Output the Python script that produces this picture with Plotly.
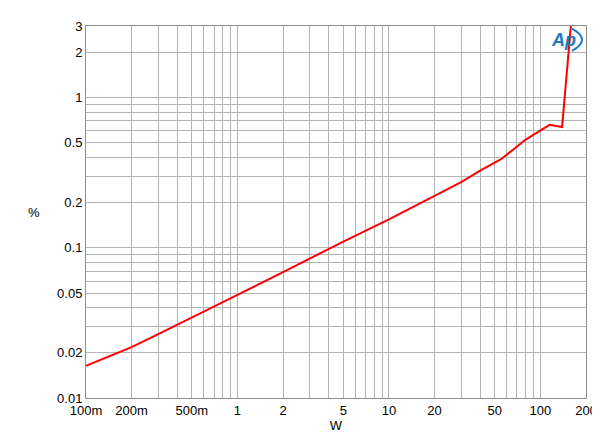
import plotly.graph_objects as go

# Data
power_w = [0.1, 0.2, 0.3, 0.5, 1, 2, 3, 5, 10, 20, 30, 40, 55, 80, 100, 115, 139, 161]
thd_pct = [0.0164, 0.0218, 0.0266, 0.0342, 0.0486, 0.069, 0.0851, 0.110, 0.1547,
           0.222, 0.274, 0.327, 0.389, 0.526, 0.606, 0.659, 0.637, 3.5]

x_grid = [0.1, 0.2, 0.3, 0.4, 0.5, 0.6, 0.7, 0.8, 0.9,
          1, 2, 3, 4, 5, 6, 7, 8, 9,
          10, 20, 30, 40, 50, 60, 70, 80, 90, 100, 200]
x_labels = {0.1: "100m", 0.2: "200m", 0.5: "500m", 1: "1", 2: "2", 5: "5",
            10: "10", 20: "20", 50: "50", 100: "100", 200: "200"}
y_grid = [0.01, 0.02, 0.03, 0.04, 0.05, 0.06, 0.07, 0.08, 0.09,
          0.1, 0.2, 0.3, 0.4, 0.5, 0.6, 0.7, 0.8, 0.9, 1, 2, 3]
y_labels = {0.01: "0.01", 0.02: "0.02", 0.05: "0.05", 0.1: "0.1", 0.2: "0.2",
            0.5: "0.5", 1: "1", 2: "2", 3: "3"}

fig = go.Figure()
fig.add_trace(go.Scatter(x=power_w, y=thd_pct, mode="lines",
                         line=dict(color="#ff0000", width=2), showlegend=False))

font = dict(family="Liberation Sans, Arial, sans-serif", size=13, color="#000000")
grid_color = "#b4b4b4"

fig.update_xaxes(type="log", range=[-1, 2.30103],
                 tickvals=x_grid, ticktext=[x_labels.get(v, "") for v in x_grid],
                 showgrid=True, gridcolor=grid_color, gridwidth=1,
                 showline=True, linecolor="#909090", linewidth=1, mirror=True,
                 ticks="", tickfont=font, zeroline=False,
                 title=dict(text="W", font=font, standoff=4))
fig.update_yaxes(type="log", range=[-2, 0.47712],
                 tickvals=y_grid, ticktext=[y_labels.get(v, "") for v in y_grid],
                 showgrid=True, gridcolor=grid_color, gridwidth=1,
                 showline=True, linecolor="#909090", linewidth=1, mirror=True,
                 ticks="", tickfont=font, zeroline=False, title=None)

fig.add_annotation(text="%", xref="paper", yref="paper", x=-0.105, y=0.5,
                   showarrow=False, font=font, xanchor="center", yanchor="middle")

# Audio Precision logo
logo_blue = "#1a7cc0"
fig.add_annotation(text="<b><i>Ap</i></b>", xref="paper", yref="paper",
                   x=0.955, y=0.963, showarrow=False, xanchor="center", yanchor="middle",
                   font=dict(family="Liberation Sans, Arial, sans-serif", size=18,
                             color=logo_blue))
fig.add_shape(type="path", xref="paper", yref="paper",
              path="M 0.972 0.993 Q 1.012 0.963 0.972 0.933",
              line=dict(color=logo_blue, width=2))

fig.update_layout(width=600, height=435, plot_bgcolor="#ffffff", paper_bgcolor="#ffffff",
                  margin=dict(l=78, r=14, t=11, b=45), font=font)

fig.write_html("out.html")
